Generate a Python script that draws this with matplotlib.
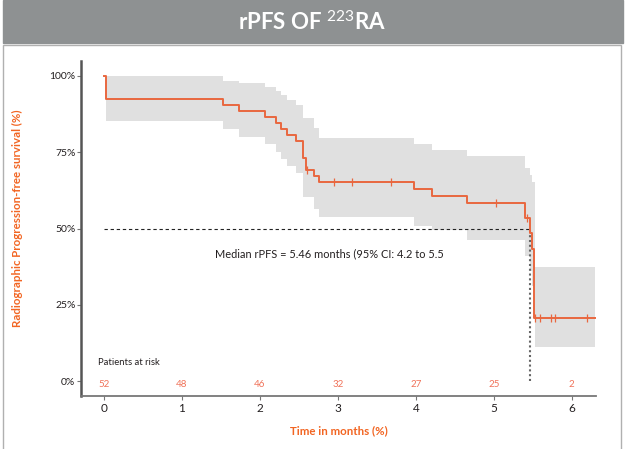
import matplotlib
matplotlib.use("Agg")
import matplotlib.pyplot as plt
from matplotlib.patches import Rectangle
import numpy as np

plt.rcParams['font.family'] = ['Lato', 'DejaVu Sans']
plt.rcParams['mathtext.fontset'] = 'custom'
plt.rcParams['mathtext.rm'] = 'Lato'
plt.rcParams['mathtext.bf'] = 'Lato:bold'

# Kaplan-Meier step curve (months, %)
km_t = [0, 0.02, 1.53, 1.73, 2.06, 2.20, 2.27, 2.35, 2.46, 2.55, 2.59, 2.69, 2.76,
        3.97, 4.21, 4.66, 5.40, 5.46, 5.49, 5.52, 6.30]
km_s = [100, 92.3, 90.4, 88.5, 86.5, 84.6, 82.7, 80.8, 78.8, 73.0, 69.2, 67.3, 65.4,
        63.0, 60.7, 58.3, 53.6, 48.4, 43.3, 20.6, 20.6]

# censored observations
cens_t = [2.60, 2.95, 3.18, 3.68, 5.03, 5.43, 5.53, 5.59, 5.73, 5.79, 6.19]

# 95% confidence band
ci_t = [0.02, 1.53, 1.73, 2.06, 2.20, 2.27, 2.35, 2.46, 2.55, 2.69, 2.76,
        3.97, 4.21, 4.66, 5.40, 5.46, 5.49, 5.53, 6.30]
ci_hi = [100, 98.5, 97.8, 96.5, 95.1, 93.8, 92.1, 90.5, 86.1, 82.9, 79.5,
         77.6, 75.7, 73.8, 69.7, 67.5, 65.2, 37.3, 37.3]
ci_lo = [85.2, 82.6, 80.1, 77.7, 75.2, 72.8, 70.5, 68.3, 60.4, 56.3, 53.7,
         50.9, 49.5, 46.2, 41.0, 36.0, 31.0, 11.2, 11.2]

median = 5.46
risk_t = [0, 1, 2, 3, 4, 5, 6]
risk_n = [52, 48, 46, 32, 27, 25, 2]

orange = '#e9673f'
label_col = '#f26522'
risk_col = '#f0735a'

fig = plt.figure(figsize=(6.25, 4.49), dpi=100)

# header bar and frame
fig.patches.append(Rectangle((3 / 625, 1 - 43 / 449), 620 / 625, 43 / 449,
                             transform=fig.transFigure, color='#8e9192', zorder=-5))
fig.patches.append(Rectangle((3 / 625, -0.01), 618 / 625, 1 - 45 / 449 + 0.01,
                             transform=fig.transFigure, facecolor='white',
                             edgecolor='#b0b0b0', lw=1, zorder=-5))
fig.text(0.5, 1 - 22 / 449, r'rPFS OF $^{223}$RA', color='white', fontsize=16,
         fontweight='bold', ha='center', va='center')

ax = fig.add_axes([81 / 625, 1 - 396 / 449, 515 / 625, 335 / 449])
ax.set_zorder(2)
ax.set_facecolor('none')

ax.fill_between(ci_t, ci_lo, ci_hi, step='post', color='#e0e0e0', lw=0, zorder=1)
ax.step(km_t, km_s, where='post', color=orange, lw=1.4, zorder=3)

idx = np.searchsorted(km_t, cens_t, side='right') - 1
cens_s = np.array(km_s)[idx]
ax.plot(cens_t, cens_s, ls='none', marker='|', ms=6, mew=0.9, color=orange, zorder=4)

ax.plot([0, median], [50, 50], color='#222222', lw=0.8, ls=(0, (3, 2.5)), zorder=2)
ax.plot([median, median], [0, 50], color='#666666', lw=1.5, ls=(0, (1, 1.3)), zorder=2)

ax.text(1.42, 41.6, 'Median rPFS = 5.46 months (95% CI: 4.2 to 5.5', fontsize=7.9,
        color='#231f20', va='center', ha='left')
ax.text(-0.08, 6.0, 'Patients at risk', fontsize=6.8, color='#231f20', va='center', ha='left')
for t, n in zip(risk_t, risk_n):
    ax.text(t, -1.2, str(n), fontsize=7, color=risk_col, ha='center', va='center')

ax.set_xlim(-0.295, 6.31)
ax.set_ylim(-4.9, 104.9)
ax.set_xticks(risk_t)
ax.set_yticks([0, 25, 50, 75, 100])
ax.set_yticklabels(['0%', '25%', '50%', '75%', '100%'])
ax.tick_params(axis='y', length=3, width=0.8, color='#777777', labelsize=7.5,
               pad=1, labelcolor='#231f20')
ax.tick_params(axis='x', length=3, width=0.8, color='#777777', labelsize=8.5,
               pad=2, labelcolor='#231f20')

for s in ['top', 'right']:
    ax.spines[s].set_visible(False)
ax.spines['left'].set_color('#555555')
ax.spines['left'].set_linewidth(1.8)
ax.spines['bottom'].set_color('#777777')
ax.spines['bottom'].set_linewidth(1.3)

ax.set_xlabel('Time in months (%)', fontsize=8.3, fontweight='bold', color=label_col, labelpad=8)
ax.set_ylabel('Radiographic Progression-free survival (%)', fontsize=8.3,
              fontweight='bold', color=label_col)
ax.yaxis.set_label_coords(-0.112, 0.53)

fig.savefig('out.png', dpi=100)
